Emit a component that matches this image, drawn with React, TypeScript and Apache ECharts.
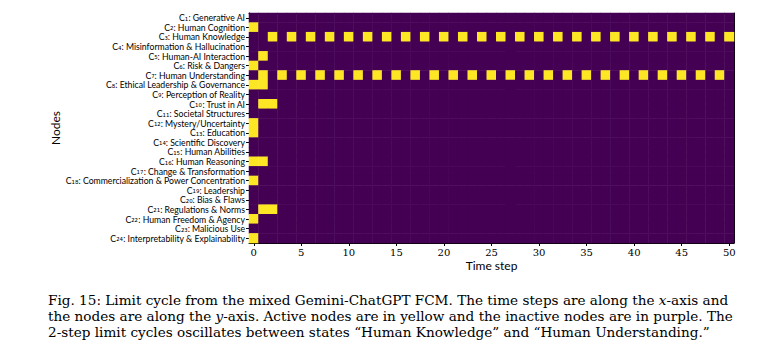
import React, { useEffect, useRef } from "react";
import * as echarts from "echarts";

const nodeLabels: string[] = [
  "C₁: Generative AI",
  "C₂: Human Cognition",
  "C₃: Human Knowledge",
  "C₄: Misinformation & Hallucination",
  "C₅: Human-AI Interaction",
  "C₆: Risk & Dangers",
  "C₇: Human Understanding",
  "C₈: Ethical Leadership & Governance",
  "C₉: Perception of Reality",
  "C₁₀: Trust in AI",
  "C₁₁: Societal Structures",
  "C₁₂: Mystery/Uncertainty",
  "C₁₃: Education",
  "C₁₄: Scientific Discovery",
  "C₁₅: Human Abilities",
  "C₁₆: Human Reasoning",
  "C₁₇: Change & Transformation",
  "C₁₈: Commercialization & Power Concentration",
  "C₁₉: Leadership",
  "C₂₀: Bias & Flaws",
  "C₂₁: Regulations & Norms",
  "C₂₂: Human Freedom & Agency",
  "C₂₃: Malicious Use",
  "C₂₄: Interpretability & Explainability",
];

// Active (yellow) time steps for each node, in node order
const activeSteps: number[][] = [
  [],
  [0],
  [2, 4, 6, 8, 10, 12, 14, 16, 18, 20, 22, 24, 26, 28, 30, 32, 34, 36, 38, 40, 42, 44, 46, 48, 50],
  [],
  [1],
  [0],
  [1, 3, 5, 7, 9, 11, 13, 15, 17, 19, 21, 23, 25, 27, 29, 31, 33, 35, 37, 39, 41, 43, 45, 47, 49],
  [0, 1],
  [],
  [1, 2],
  [],
  [0],
  [0],
  [],
  [],
  [0, 1],
  [],
  [0],
  [],
  [],
  [1, 2],
  [0],
  [],
  [0],
];

const timeStepCount = 51;
const xTickLabels: number[] = [0, 5, 10, 15, 20, 25, 30, 35, 40, 45, 50];

const captionLines: string[] = [
  "Fig. 15: Limit cycle from the mixed Gemini-ChatGPT FCM. The time steps are along the {i|x}-axis and",
  "the nodes are along the {i|y}-axis. Active nodes are in yellow and the inactive nodes are in purple. The",
  "2-step limit cycles oscillates between states “Human Knowledge” and “Human Understanding.”",
];

const PURPLE = "#440154";
const YELLOW = "#fde725";

export default function App() {
  const ref = useRef<HTMLDivElement>(null);
  useEffect(() => {
    if (!ref.current) return;
    const chart = echarts.init(ref.current, undefined, { renderer: "svg" });
    const steps = Array.from({ length: timeStepCount }, (_, i) => String(i));
    const data: any[] = [];
    nodeLabels.forEach((_, yi) => {
      for (let t = 0; t < timeStepCount; t++) {
        const on = activeSteps[yi].includes(t);
        data.push([t, yi, on ? 1 : 0]);
      }
    });
    const sans = "Lato";
    const capSize = 13.6;
    chart.setOption({
      animation: false,
      backgroundColor: "#ffffff",
      grid: { left: 249, top: 13, width: 485, height: 230 },
      visualMap: {
        show: false,
        type: "piecewise",
        dimension: 2,
        seriesIndex: 0,
        pieces: [
          { value: 0, color: PURPLE },
          { value: 1, color: YELLOW },
        ],
      },
      xAxis: [
        {
          type: "category",
          data: steps,
          position: "bottom",
          axisLine: { show: true, lineStyle: { color: "#000", width: 1 } },
          axisTick: {
            show: true,
            alignWithLabel: true,
            length: 3,
            lineStyle: { color: "#000" },
            interval: (i: number) => xTickLabels.includes(i),
          },
          axisLabel: {
            show: true,
            margin: 4,
            fontFamily: "DejaVu Serif",
            fontSize: 10,
            color: "#000",
            interval: (i: number) => xTickLabels.includes(i),
          },
          splitLine: { show: false },
          name: "Time step",
          nameLocation: "middle",
          nameGap: 16,
          nameMoveOverlap: false,
          nameTextStyle: { fontFamily: sans, fontSize: 12, color: "#000" },
        },
        {
          type: "category",
          data: steps,
          position: "top",
          axisLine: { show: true, lineStyle: { color: "#000", width: 1 } },
          axisTick: { show: false },
          axisLabel: { show: false },
        },
      ],
      yAxis: [
        {
          type: "category",
          data: nodeLabels,
          inverse: true,
          axisLine: { show: true, lineStyle: { color: "#000", width: 1 } },
          axisTick: {
            show: true,
            alignWithLabel: true,
            length: 3,
            lineStyle: { color: "#000" },
            interval: 0,
          },
          axisLabel: {
            show: true,
            interval: 0,
            margin: 4,
            fontFamily: sans,
            fontSize: 8.7,
            color: "#000",
            formatter: (v: string) => {
              const m = v.match(/^C([₀-₉]+)(.*)$/);
              return m ? `C{s|${m[1]}}${m[2]}` : v;
            },
            rich: {
              s: { fontFamily: "DejaVu Sans", fontSize: 8.5, color: "#000" },
            },
          },
          name: "Nodes",
          nameLocation: "middle",
          nameGap: 188,
          nameMoveOverlap: false,
          nameRotate: 90,
          nameTextStyle: { fontFamily: sans, fontSize: 12, color: "#000" },
        },
        {
          type: "category",
          data: nodeLabels,
          inverse: true,
          position: "right",
          axisLine: { show: true, lineStyle: { color: "#000", width: 1 } },
          axisTick: { show: false },
          axisLabel: { show: false },
        },
      ],
      series: [
        {
          type: "heatmap",
          xAxisIndex: 0,
          yAxisIndex: 0,
          data,
          z: 1,
        },
      ],
      graphic: captionLines.map((line, i) => ({
        type: "text",
        left: 48,
        top: 293 + i * 16,
        z: 10,
        style: {
          text: line,
          fontFamily: "DejaVu Serif",
          fontSize: capSize,
          fill: "#000",
          rich: {
            i: { fontFamily: "DejaVu Serif", fontStyle: "italic", fontSize: capSize, fill: "#000" },
          },
        },
      })),
    });
    return () => chart.dispose();
  }, []);
  return (
    <div
      ref={ref}
      style={{ position: "fixed", left: 0, top: 0, width: 776, height: 351 }}
    />
  );
}
